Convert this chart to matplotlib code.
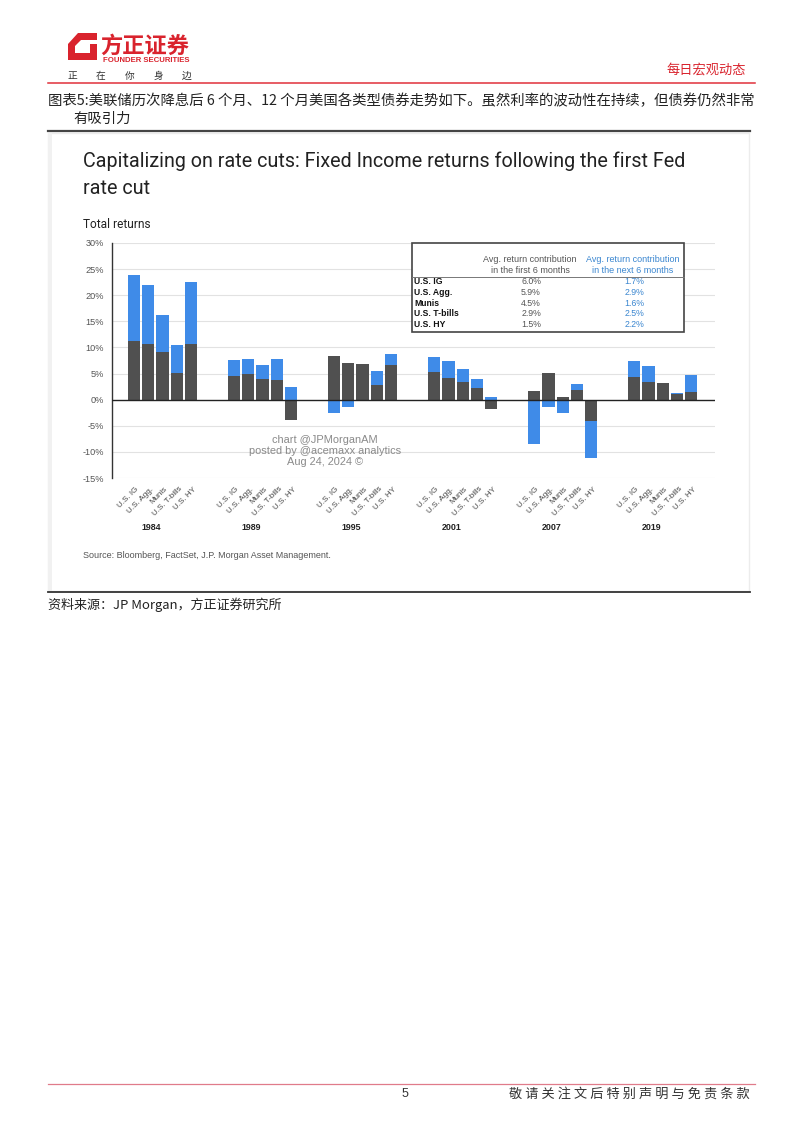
import numpy as np
import matplotlib.pyplot as plt
from matplotlib.patches import Polygon, Rectangle
from matplotlib.lines import Line2D

plt.rcParams['font.family'] = ['Liberation Sans', 'Noto Sans CJK SC', 'DejaVu Sans']

W, H = 802, 1133

# ---- data ----
years = ['1984', '1989', '1995', '2001', '2007', '2019']
categories = ['U.S. IG', 'U.S. Agg.', 'Munis', 'U.S. T-bills', 'U.S. HY']

# first 6 months (dark) and next 6 months (blue), % returns
first6 = [
    [11.3, 10.6, 9.2, 5.2, 10.6],
    [4.5, 4.9, 3.9, 3.7, -3.9],
    [8.4, 7.1, 6.8, 2.9, 6.6],
    [5.3, 4.2, 3.3, 2.3, -1.8],
    [1.7, 5.1, 0.6, 1.9, -4.1],
    [4.3, 3.3, 3.2, 1.0, 1.5],
]
next6 = [
    [12.5, 11.3, 7.0, 5.2, 12.0],
    [3.1, 2.9, 2.8, 4.1, 2.4],
    [-2.6, -1.5, -0.3, 2.5, 2.2],
    [2.8, 3.3, 2.6, 1.6, 0.5],
    [-8.5, -1.5, -2.6, 1.1, -7.1],
    [3.2, 3.2, 0.0, 0.3, 3.3],
]

table_rows = ['U.S. IG', 'U.S. Agg.', 'Munis', 'U.S. T-bills', 'U.S. HY']
table_first = ['6.0%', '5.9%', '4.5%', '2.9%', '1.5%']
table_next = ['1.7%', '2.9%', '1.6%', '2.5%', '2.2%']

yticks = [-15, -10, -5, 0, 5, 10, 15, 20, 25, 30]

DARK = '#505050'
BLUE = '#3f8be8'
RED = '#d9232d'
TBLUE = '#3a86d0'


def fx(x):
    return x / W


def fy(y):
    return 1 - y / H


fig = plt.figure(figsize=(W / 100, H / 100), dpi=100)
fig.patch.set_facecolor('white')

# ---- page header ----
logo = Polygon([(fx(68), fy(44)), (fx(78), fy(33)), (fx(97), fy(33)), (fx(97), fy(40)),
                (fx(81), fy(40)), (fx(75), fy(46)), (fx(75), fy(53)), (fx(90), fy(53)),
                (fx(90), fy(44)), (fx(97), fy(44)), (fx(97), fy(60)), (fx(68), fy(60))],
               closed=True, transform=fig.transFigure, facecolor=RED, edgecolor='none')
fig.patches.append(logo)
fig.text(fx(100), fy(46), '方正证券', color=RED, fontsize=16, fontweight='bold',
         family=['Noto Sans CJK SC'], va='center', ha='left')
fig.text(fx(103), fy(61), 'FOUNDER SECURITIES', color=RED, fontsize=5.6, fontweight='bold',
         va='center', ha='left')
for ch, xx in zip('正在你身边', np.linspace(67, 182, 5)):
    fig.text(fx(xx), fy(76), ch, color='#333333', fontsize=7,
             family=['Noto Sans CJK SC'], va='center', ha='left')
fig.text(fx(746), fy(70), '每日宏观动态', color=RED, fontsize=9.5,
         family=['Noto Sans CJK SC'], va='center', ha='right')
fig.lines.append(Line2D([fx(48), fx(755)], [fy(82.5), fy(82.5)], transform=fig.transFigure,
                        color='#e0303a', lw=1.1))

# ---- caption ----
fig.text(fx(48), fy(101), '图表5:美联储历次降息后 6 个月、12 个月美国各类型债券走势如下。虽然利率的波动性在持续，但债券仍然非常',
         fontsize=10.35, family=['Noto Sans CJK SC'], color='#222222', va='center', ha='left')
fig.text(fx(73), fy(119), '有吸引力', fontsize=10.35, family=['Noto Sans CJK SC'],
         color='#222222', va='center', ha='left')
fig.lines.append(Line2D([fx(48), fx(750)], [fy(131), fy(131)], transform=fig.transFigure,
                        color='#444444', lw=1.6))

# chart image frame (behind everything)
fig.patches.append(Rectangle((fx(48), fy(591)), fx(701), 458 / H, transform=fig.transFigure,
                             facecolor='white', edgecolor='#ececec', lw=1.0, zorder=-5))
fig.patches.append(Rectangle((fx(48), fy(591)), fx(4), 458 / H, transform=fig.transFigure,
                             facecolor='#f1f1f1', edgecolor='none', zorder=-4))

fig.text(fx(83), fy(161), 'Capitalizing on rate cuts: Fixed Income returns following the first Fed',
         fontsize=14.2, family=['Roboto'], color='#222222', va='center', ha='left')
fig.text(fx(83), fy(188), 'rate cut', fontsize=14.2, family=['Roboto'], color='#222222',
         va='center', ha='left')
fig.text(fx(83), fy(225), 'Total returns', fontsize=8.6, family=['Roboto'], color='#222222',
         va='center', ha='left')

# ---- bar chart ----
ax = fig.add_axes([fx(112), fy(478), (715 - 112) / W, (478 - 243) / H])
ax.set_facecolor('none')
n_cat = len(categories)
step = n_cat + 2
for g, yr in enumerate(years):
    pos = g * step + np.arange(n_cat)
    d = np.array(first6[g])
    b = np.array(next6[g])
    base = np.where(np.sign(b) == np.sign(d), d, 0.0)
    ax.bar(pos, d, width=0.86, color=DARK, zorder=3)
    ax.bar(pos, b, bottom=base, width=0.86, color=BLUE, zorder=3)
    for i, c in enumerate(categories):
        ax.annotate(c, xy=(pos[i] + 0.1, -15), xytext=(0, -5.5), textcoords='offset points',
                    rotation=45, rotation_mode='anchor', ha='right', va='top',
                    fontsize=5.8, color='#444444', annotation_clip=False)
    ax.annotate(yr, xy=(g * step + 1.2, -15), xytext=(0, -35.5), textcoords='offset points',
                ha='center', va='center', fontsize=6.4, fontweight='bold', color='#222222',
                annotation_clip=False)

ax.set_xlim(-1.54, 5 * step + 4 + 1.66)
ax.set_ylim(-15, 30)
ax.set_yticks(yticks)
ax.set_yticklabels([f'{t}%' for t in yticks], fontsize=6.6, color='#555555')
ax.tick_params(axis='y', length=0, pad=6)
ax.set_xticks([])
for t in yticks:
    if t != 0:
        ax.axhline(t, color='#e2e2e2', lw=0.8, zorder=1)
ax.axhline(0, color='#222222', lw=1.0, zorder=4)
for s in ['top', 'right', 'bottom']:
    ax.spines[s].set_visible(False)
ax.spines['left'].set_color('#333333')
ax.spines['left'].set_linewidth(1.0)

# watermark
for txt, yy in [('chart @JPMorganAM', 440), ('posted by @acemaxx analytics', 451),
                ('Aug 24, 2024 ©', 462)]:
    fig.text(fx(325), fy(yy), txt, fontsize=7.9, color='#8a8a8a', ha='center', va='center')

# ---- inset table ----
fig.patches.append(Rectangle((fx(412), fy(332)), (684 - 412) / W, (332 - 243) / H,
                             transform=fig.transFigure, facecolor='white', edgecolor='#444444',
                             lw=1.2, zorder=5))
fig.lines.append(Line2D([fx(412), fx(684)], [fy(277), fy(277)], transform=fig.transFigure,
                        color='#777777', lw=0.7, zorder=6))
fig.text(fx(530), fy(259), 'Avg. return contribution', fontsize=6.5, color='#555555',
         ha='center', va='center', zorder=6)
fig.text(fx(530), fy(270), 'in the first 6 months', fontsize=6.5, color='#555555',
         ha='center', va='center', zorder=6)
fig.text(fx(633), fy(259), 'Avg. return contribution', fontsize=6.5, color=TBLUE,
         ha='center', va='center', zorder=6)
fig.text(fx(633), fy(270), 'in the next 6 months', fontsize=6.5, color=TBLUE,
         ha='center', va='center', zorder=6)
for r, (lab, v1, v2) in enumerate(zip(table_rows, table_first, table_next)):
    yy = 282 + r * 10.6
    fig.text(fx(414), fy(yy), lab, fontsize=6.2, fontweight='bold', color='#111111',
             ha='left', va='center', zorder=6)
    fig.text(fx(531), fy(yy), v1, fontsize=6.3, color='#555555', ha='center', va='center', zorder=6)
    fig.text(fx(634), fy(yy), v2, fontsize=6.3, color=TBLUE, ha='center', va='center', zorder=6)

fig.text(fx(83), fy(555), 'Source: Bloomberg, FactSet, J.P. Morgan Asset Management.',
         fontsize=6.5, color='#555555', ha='left', va='center')

# ---- source line ----
fig.lines.append(Line2D([fx(48), fx(750)], [fy(592.5), fy(592.5)], transform=fig.transFigure,
                        color='#333333', lw=1.3))
fig.text(fx(48), fy(605), '资料来源：JP Morgan，方正证券研究所', fontsize=9.4,
         family=['Noto Sans CJK SC'], color='#222222', ha='left', va='center')

# ---- footer ----
fig.lines.append(Line2D([fx(48), fx(755)], [fy(1084), fy(1084)], transform=fig.transFigure,
                        color='#e07b8a', lw=0.9))
fig.text(fx(405), fy(1094), '5', fontsize=9, color='#333333', ha='center', va='center')
fig.text(fx(750), fy(1094), '敬 请 关 注 文 后 特 别 声 明 与 免 责 条 款', fontsize=9.5,
         family=['Noto Sans CJK SC'], color='#333333', ha='right', va='center')

fig.savefig('out.png', dpi=100)
